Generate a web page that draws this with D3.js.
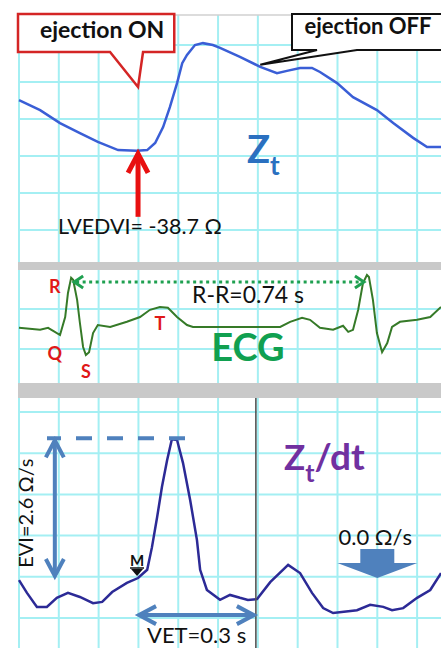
<!DOCTYPE html>
<html><head><meta charset="utf-8">
<script src="https://cdn.jsdelivr.net/npm/d3@7"></script>
<style>html,body{margin:0;padding:0;background:#fff;}svg{display:block;font-family:Lato,"Open Sans",sans-serif;}</style>
</head><body><svg id="c" width="441" height="648"></svg>
<script>
// ---- data (time in s, values in grid squares above panel baseline) ----
const ztData = [[0,4.51],[0.053,4.24],[0.103,3.89],[0.153,3.62],[0.198,3.38],[0.249,3.16],[0.296,3.14],[0.322,3.16],[0.342,3.35],[0.362,3.78],[0.379,4.32],[0.397,4.97],[0.41,5.51],[0.422,5.73],[0.442,6.0],[0.462,6.05],[0.487,6.0],[0.505,5.92],[0.555,5.68],[0.606,5.41],[0.648,5.24],[0.673,5.3],[0.706,5.38],[0.736,5.38],[0.756,5.27],[0.799,4.97],[0.839,4.59],[0.899,4.24],[0.94,3.89],[0.99,3.49],[1.025,3.24],[1.06,3.24]];
const ecgData = [[0,0.53],[0.053,0.48],[0.073,0.53],[0.09,0.43],[0.103,0.35],[0.116,0.8],[0.123,1.4],[0.131,1.78],[0.136,1.73],[0.146,1.23],[0.153,0.65],[0.161,0.05],[0.168,-0.15],[0.176,-0.08],[0.186,0.4],[0.198,0.6],[0.229,0.55],[0.271,0.68],[0.304,0.8],[0.329,0.98],[0.354,1.05],[0.374,1.03],[0.397,0.8],[0.422,0.6],[0.437,0.55],[0.523,0.55],[0.656,0.55],[0.681,0.68],[0.711,0.78],[0.731,0.73],[0.756,0.53],[0.789,0.48],[0.814,0.58],[0.827,0.43],[0.839,0.48],[0.852,0.98],[0.864,1.65],[0.874,1.85],[0.879,1.8],[0.889,1.23],[0.899,0.4],[0.912,-0.08],[0.925,0.15],[0.937,0.55],[0.957,0.68],[1.0,0.73],[1.033,0.8],[1.06,1.05]];
const dzData = [[0,0.92],[0.02,0.61],[0.045,0.27],[0.07,0.27],[0.095,0.49],[0.123,0.61],[0.153,0.51],[0.186,0.36],[0.209,0.39],[0.234,0.63],[0.271,0.85],[0.299,0.97],[0.322,1.17],[0.334,1.72],[0.347,2.45],[0.359,3.18],[0.372,3.83],[0.384,4.34],[0.397,4.32],[0.412,3.76],[0.43,2.86],[0.447,1.89],[0.455,1.17],[0.472,0.68],[0.505,0.44],[0.53,0.56],[0.555,0.49],[0.575,0.44],[0.598,0.46],[0.631,0.87],[0.676,1.29],[0.706,1.09],[0.736,0.61],[0.764,0.24],[0.789,0.12],[0.849,0.19],[0.882,0.32],[0.915,0.27],[0.937,0.19],[0.965,0.24],[1.0,0.49],[1.033,0.68],[1.06,1.09]];
const gridTimes = [0,0.1,0.2,0.3,0.4,0.5,0.6,0.7,0.8,0.9,1.0];
const topRows = [1,2,3,4,5,6];
const ecgRows = [0,1];
const dzRows = [0,1,2,3,4,5];
const tOn = 0.299, tOff = 0.606, tEnd = 0.595, rrTimes = [0.131, 0.874];
const labels = {on:"ejection ON", off:"ejection OFF", lvedvi:"LVEDVI= -38.7 Ω", rr:"R-R=0.74 s", ecg:"ECG", evi:"EVI=2.6 Ω/s", vet:"VET=0.3 s", zero:"0.0 Ω/s"};
const waveLabels = [["R",0.09,1.4],["Q",0.09,-0.28],["S",0.168,-0.73],["T",0.354,0.48]];

const svg = d3.select('#c');
const x = d3.scaleLinear().domain([0,1.06]).range([19,441]);
const yZ = d3.scaleLinear().domain([0,6]).range([267,45]);
const yE = d3.scaleLinear().domain([0,1]).range([349,309]);
const yD = d3.scaleLinear().domain([0,5]).range([618,412]);
const L = 18, R = 441;
const gridC = '#a4eff3', bandC = '#c9c9c9', blueA = '#4f81bd';

svg.append('rect').attr('width',441).attr('height',648).attr('fill','#fff');
// grid
const g = svg.append('g');
g.selectAll('line.v').data(gridTimes).join('line').attr('x1',d=>x(d)).attr('x2',d=>x(d)).attr('y1',15).attr('y2',648).attr('stroke',gridC).attr('stroke-width',2);
const hl = (rows, sc) => g.append('g').selectAll('line').data(rows).join('line').attr('x1',L).attr('x2',R).attr('y1',d=>sc(d)).attr('y2',d=>sc(d)).attr('stroke',gridC).attr('stroke-width',2);
hl(topRows,yZ); hl(ecgRows,yE); hl(dzRows,yD);
svg.append('line').attr('x1',L).attr('x2',R).attr('y1',15).attr('y2',15).attr('stroke','#d0d0d0').attr('stroke-width',1.5);
svg.append('rect').attr('x',L).attr('y',262).attr('width',R-L).attr('height',8).attr('fill',bandC);
svg.append('rect').attr('x',L).attr('y',383).attr('width',R-L).attr('height',15).attr('fill',bandC);

// curves
const line = sc => d3.line().x(d=>x(d[0])).y(d=>sc(d[1]));
svg.append('path').attr('d',line(yZ)(ztData)).attr('fill','none').attr('stroke','#3a5ed6').attr('stroke-width',2.5);
svg.append('path').attr('d',line(yE)(ecgData)).attr('fill','none').attr('stroke','#367a28').attr('stroke-width',2);
svg.append('path').attr('d',line(yD)(dzData)).attr('fill','none').attr('stroke','#2c2a96').attr('stroke-width',2.5);
// end-of-ejection vertical line
svg.append('line').attr('x1',x(tEnd)).attr('x2',x(tEnd)).attr('y1',398).attr('y2',648).attr('stroke','#555').attr('stroke-width',1.6);

function chev(cx, cy, dir, len, half){ // tip at (cx,cy)
  if(dir==='u') return `M${cx-half},${cy+len}L${cx},${cy}L${cx+half},${cy+len}`;
  if(dir==='d') return `M${cx-half},${cy-len}L${cx},${cy}L${cx+half},${cy-len}`;
  if(dir==='l') return `M${cx+len},${cy-half}L${cx},${cy}L${cx+len},${cy+half}`;
  return `M${cx-len},${cy-half}L${cx},${cy}L${cx-len},${cy+half}`;
}

// ---- top panel annotations ----
const xOn = x(tOn), minY = yZ(3.14);
svg.append('line').attr('x1',xOn).attr('x2',xOn).attr('y1',minY+6).attr('y2',minY+66).attr('stroke','#e81010').attr('stroke-width',5);
svg.append('path').attr('d',chev(xOn,minY+3,'u',19,10)).attr('fill','none').attr('stroke','#e81010').attr('stroke-width',5).attr('stroke-linejoin','miter');
const bL = L, bR = x(0.39), bT = 14, bB = 52;
svg.append('path').attr('d',`M${bL},${bT}H${bR}V${bB}H${xOn+5}L${xOn},87L${xOn-28},${bB}H${bL}Z`).attr('fill','#fff').attr('stroke','#d42525').attr('stroke-width',2.5);
svg.append('text').attr('x',(bL+bR)/2+6).attr('y',38).attr('text-anchor','middle').attr('font-size',23).attr('font-weight',700).attr('fill','#111').text(labels.on);
const xOff = x(tOff), oL = 292;
svg.append('path').attr('d',`M${oL},14H446V50H${oL+65}L${xOff},${yZ(5.41)-2}L${oL+25},50H${oL}Z`).attr('fill','#fff').attr('stroke','#111').attr('stroke-width',2);
svg.append('text').attr('x',368).attr('y',34).attr('text-anchor','middle').attr('font-size',22).attr('font-weight',700).attr('fill','#111').text(labels.off);
svg.append('text').attr('x',58).attr('y',234).attr('font-size',21.5).attr('fill','#111').text(labels.lvedvi);
const zt = svg.append('text').attr('x',247).attr('y',163).attr('fill','#2a70c0').attr('font-weight',700);
zt.append('tspan').attr('font-size',38).text('Z');
zt.append('tspan').attr('font-size',26).attr('dy',12).text('t');

// ---- ECG annotations ----
const yRR = 282, rx1 = x(rrTimes[0])+3, rx2 = x(rrTimes[1])-3;
svg.append('line').attr('x1',rx1+2).attr('x2',rx2-2).attr('y1',yRR).attr('y2',yRR).attr('stroke','#1fa050').attr('stroke-width',3).attr('stroke-dasharray','3 3.5');
svg.append('path').attr('d',chev(rx1,yRR,'l',9,6)+chev(rx2,yRR,'r',9,6)).attr('fill','none').attr('stroke','#1fa050').attr('stroke-width',3);
svg.append('text').attr('x',248).attr('y',303).attr('text-anchor','middle').attr('font-size',23).attr('fill','#111').text(labels.rr);
svg.append('text').attr('x',248).attr('y',361).attr('text-anchor','middle').attr('font-size',38).attr('font-weight',700).attr('fill','#10a050').text(labels.ecg);
svg.selectAll('text.w').data(waveLabels).join('text').attr('class','w').attr('x',d=>x(d[1])).attr('y',d=>yE(d[2])).attr('text-anchor','middle').attr('font-size',18).attr('font-weight',700).attr('fill','#e01818').text(d=>d[0]);

// ---- bottom panel annotations ----
const peakY = yD(4.36), baseY = yD(0.97), xEvi = x(0.09);
svg.append('line').attr('x1',47).attr('x2',x(0.43)).attr('y1',peakY).attr('y2',peakY).attr('stroke',blueA).attr('stroke-width',4).attr('stroke-dasharray','16 15').attr('stroke-dashoffset',2);
svg.append('line').attr('x1',xEvi).attr('x2',xEvi).attr('y1',peakY+3).attr('y2',baseY-3).attr('stroke',blueA).attr('stroke-width',4);
svg.append('path').attr('d',chev(xEvi,peakY+2,'u',17,9)+chev(xEvi,baseY-2,'d',17,9)).attr('fill','none').attr('stroke',blueA).attr('stroke-width',4);
svg.append('text').attr('transform',`translate(33,${(peakY+baseY)/2+5}) rotate(-90)`).attr('text-anchor','middle').attr('font-size',20).attr('fill','#111').text(labels.evi);
const yVet = yD(0.07), v1 = x(tOn)+1, v2 = x(tEnd)-2;
svg.append('line').attr('x1',v1+2).attr('x2',v2-2).attr('y1',yVet).attr('y2',yVet).attr('stroke',blueA).attr('stroke-width',4);
svg.append('path').attr('d',chev(v1,yVet,'l',17,9)+chev(v2,yVet,'r',17,9)).attr('fill','none').attr('stroke',blueA).attr('stroke-width',4);
svg.append('text').attr('x',147).attr('y',643).attr('font-size',22).attr('fill','#111').text(labels.vet);
const mx = x(tOn)-1;
svg.append('text').attr('x',mx).attr('y',566).attr('text-anchor','middle').attr('font-size',15).attr('font-weight',700).attr('fill','#111').text('M');
svg.append('line').attr('x1',mx-7).attr('x2',mx+7).attr('y1',568).attr('y2',568).attr('stroke','#111').attr('stroke-width',1.5);
svg.append('path').attr('d',`M${mx-6},569L${mx+6},569L${mx},576Z`).attr('fill','#111');
const zd = svg.append('text').attr('x',284).attr('y',470).attr('fill','#7030a0').attr('font-weight',700);
zd.append('tspan').attr('font-size',35).text('Z');
zd.append('tspan').attr('font-size',25).attr('dy',12).text('t');
zd.append('tspan').attr('font-size',37).attr('dy',-12).text('/dt');
const ax = x(0.9), aTip = yD(0.97);
svg.append('path').attr('d',`M${ax-17},${aTip-29}H${ax+17}V${aTip-15}H${ax+40}L${ax},${aTip}L${ax-40},${aTip-15}H${ax-17}Z`).attr('fill',blueA);
svg.append('text').attr('x',ax-2).attr('y',545).attr('text-anchor','middle').attr('font-size',22).attr('fill','#111').text(labels.zero);
</script></body></html>
